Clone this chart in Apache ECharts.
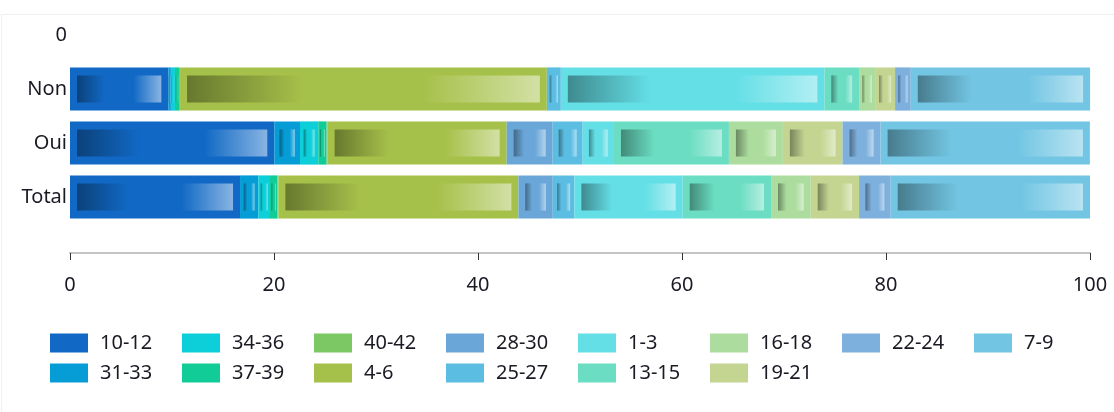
<!DOCTYPE html>
<html><head><meta charset="utf-8">
<script src="https://cdn.jsdelivr.net/npm/echarts@6/dist/echarts.min.js"></script>
<style>html,body{margin:0;padding:0;background:#fff}#c{width:1114px;height:412px}</style>
</head><body><div id="c"></div>
<script>
// categories, top to bottom
const categories = ['0', 'Non', 'Oui', 'Total'];
const xTicks = [0, 20, 40, 60, 80, 100];
// age bands in stacking order
const bands = ['10-12','31-33','34-36','37-39','40-42','4-6','28-30','25-27','1-3','13-15','16-18','19-21','22-24','7-9'];
const bandColors = ['#1169c5','#069cd6','#0ccfd9','#12cc98','#7cc864','#a6c14a','#6aa7d8','#5cbde2','#64dfe6','#6addc2','#acdd9e','#c4d592','#7eb0dd','#73c6e3'];
// values per category [0, Non, Oui, Total]
const v10_12 = [0, 9.64, 20.03, 16.67];
const v31_33 = [0, 0.25, 2.52, 1.79];
const v34_36 = [0, 0.4, 1.79, 1.15];
const v37_39 = [0, 0.4, 0.82, 0.72];
const v40_42 = [0, 0.1, 0.1, 0.1];
const v4_6   = [0, 35.96, 17.55, 23.53];
const v28_30 = [0, 0, 4.51, 3.37];
const v25_27 = [0, 1.37, 2.94, 2.12];
const v1_3   = [0, 25.84, 3.07, 10.62];
const v13_15 = [0, 3.40, 11.27, 8.66];
const v16_18 = [0, 1.57, 5.29, 3.89];
const v19_21 = [0, 1.96, 5.85, 4.74];
const v22_24 = [0, 1.54, 3.73, 3.10];
const v7_9   = [0, 17.58, 20.52, 19.54];
const values = [v10_12, v31_33, v34_36, v37_39, v40_42, v4_6, v28_30, v25_27, v1_3, v13_15, v16_18, v19_21, v22_24, v7_9];
// legend columns (filled top to bottom)
const legendColumns = [['10-12','31-33'],['34-36','37-39'],['40-42','4-6'],['28-30','25-27'],['1-3','13-15'],['16-18','19-21'],['22-24'],['7-9']];

const FONT = 'Noto Sans';
const TXT = '#1a1a24';

function hexToRgb(h){ h=h.replace('#',''); return [parseInt(h.substr(0,2),16),parseInt(h.substr(2,2),16),parseInt(h.substr(4,2),16)]; }
function rgbStr(c){ return 'rgb('+c.map(v=>Math.round(Math.max(0,Math.min(255,v)))).join(',')+')'; }
function dark(h){ return rgbStr(hexToRgb(h).map(v=>v*0.62)); }
function light(h){ return rgbStr(hexToRgb(h).map(v=>v+(255-v)*0.5)); }

const cum = categories.map(()=>0);
const series = bands.map((name, si) => {
  const base = bandColors[si];
  const data = values[si].map((v, ci) => {
    const s = cum[ci]; cum[ci] += v;
    return [s, cum[ci], ci];
  });
  return {
    type: 'custom', name: name,
    itemStyle: { color: base },
    encode: { x: [0, 1], y: 2 },
    data: data,
    renderItem: function(params, api){
      const s = api.value(0), e = api.value(1), ci = api.value(2);
      if (!(e - s > 0)) return null;
      const p0 = api.coord([s, ci]), p1 = api.coord([e, ci]);
      const bh = api.size([0, 1])[1] * 0.8;
      const x = p0[0], w = p1[0] - p0[0], y = p0[1] - bh / 2;
      const children = [{ type: 'rect', shape: { x: x, y: y, width: w, height: bh }, style: { fill: base } }];
      const ins = Math.min(7, w * 0.2);
      const iw = w - 2 * ins;
      if (iw > 1) {
        children.push({ type: 'rect', shape: { x: x + ins, y: y + 8, width: iw, height: bh - 16 },
          style: { fill: new echarts.graphic.LinearGradient(0, 0, 1, 0, [
            { offset: 0, color: dark(base) }, { offset: 0.33, color: base },
            { offset: 0.67, color: base }, { offset: 1, color: light(base) }]) } });
      }
      return { type: 'group', children: children };
    }
  };
});

const legends = legendColumns.map((col, i) => ({
  data: col, left: 50 + 132 * i, top: 333, orient: 'vertical', padding: 0,
  itemWidth: 38, itemHeight: 19, itemGap: 10, icon: 'rect',
  textStyle: { fontFamily: FONT, fontSize: 20, color: TXT, padding: [0, 0, 0, 7] },
  selectedMode: false
}));

const chart = echarts.init(document.getElementById('c'), null, { renderer: 'canvas' });
chart.setOption({
  animation: false,
  backgroundColor: '#fff',
  graphic: [{ type: 'rect', shape: { x: 1.5, y: 14.5, width: 1200, height: 600 }, style: { fill: 'none', stroke: '#f0f0f0', lineWidth: 1 }, silent: true }],
  grid: { left: 70, right: 24, top: 8, height: 216 },
  legend: legends,
  xAxis: {
    type: 'value', min: xTicks[0], max: xTicks[xTicks.length - 1], interval: 20, offset: 29,
    axisLine: { show: true, lineStyle: { color: '#c4c4c4', width: 2 } },
    axisTick: { show: true, length: 7, lineStyle: { color: '#333' } },
    axisLabel: { fontFamily: FONT, fontSize: 20, color: TXT, margin: 22 },
    splitLine: { show: false }
  },
  yAxis: {
    type: 'category', data: categories, inverse: true,
    axisLine: { show: false }, axisTick: { show: false },
    axisLabel: { fontFamily: FONT, fontSize: 20, color: TXT, margin: 3, padding: [6, 0, 0, 0] }
  },
  series: series
});
</script></body></html>
